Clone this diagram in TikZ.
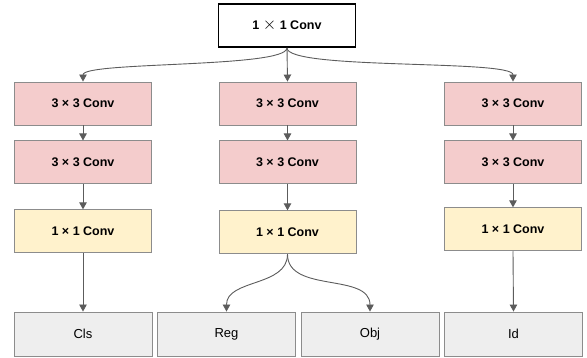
\documentclass[tikz,border=0pt]{standalone}
\usepackage{fontspec}
\setmainfont{Liberation Sans}
\usetikzlibrary{arrows.meta,positioning}
\definecolor{convpink}{HTML}{F4CCCC}
\definecolor{convyellow}{HTML}{FFF2CC}
\definecolor{headgray}{HTML}{EEEEEE}
\definecolor{boxline}{HTML}{8C8C8C}
\definecolor{flowgray}{HTML}{5C5C5C}

\begin{document}
\begin{tikzpicture}[x=1pt,y=-1pt,
  block/.style={draw=boxline,line width=0.9pt,minimum width=137pt,minimum height=43pt,inner sep=0pt,font=\fontsize{12.5}{15}\selectfont\bfseries},
  conv3/.style={block,fill=convpink},
  conv1/.style={block,fill=convyellow},
  stem/.style={block,draw=black,line width=1.8pt,fill=white},
  head/.style={block,fill=headgray,minimum width=138pt,minimum height=44pt,font=\fontsize{13}{15}\selectfont},
  flow/.style={-{Triangle[width=7.5pt,length=7pt]},line width=0.9pt,draw=flowgray},
  node distance=15pt]
\useasboundingbox (0,0) rectangle (587,358);
\node[stem] (top) at (287,25.5) {1 {\fontsize{16}{15}\selectfont$\times$} 1 Conv};
% three branches
\node[conv3] (clsA) at (83,103.5) {3 × 3 Conv};
\node[conv3,below=of clsA] (clsB) {3 × 3 Conv};
\node[conv1,below=25pt of clsB] (clsC) {1 × 1 Conv};
\node[conv3] (regA) at (287.5,103.5) {3 × 3 Conv};
\node[conv3,below=of regA] (regB) {3 × 3 Conv};
\node[conv1,below=26pt of regB] (regC) {1 × 1 Conv};
\node[conv3] (idA) at (513,103.5) {3 × 3 Conv};
\node[conv3,below=of idA] (idB) {3 × 3 Conv};
\node[conv1,below=23pt of idB] (idC) {1 × 1 Conv};
% outputs
\node[head] (cls) at (83,334) {Cls};
\node[head] (reg) at (226.5,334) {Reg};
\node[head] (obj) at (370,334) {Obj};
\node[head] (id) at (513.5,334) {Id};
\draw[flow] (top.south) to[out=-90,in=90,looseness=0.25] (clsA.north);
\draw[flow] (top.south) -- (regA.north);
\draw[flow] (top.south) to[out=-90,in=90,looseness=0.25] (idA.north);
\foreach \a/\b in {clsA/clsB,clsB/clsC,regA/regB,regB/regC,idA/idB,idB/idC,clsC/cls,idC/id}
  \draw[flow] (\a.south)--(\b.north);
\draw[flow] (regC.south) to[out=-90,in=90] (reg.north);
\draw[flow] (regC.south) to[out=-90,in=90] (obj.north);
\end{tikzpicture}
\end{document}
